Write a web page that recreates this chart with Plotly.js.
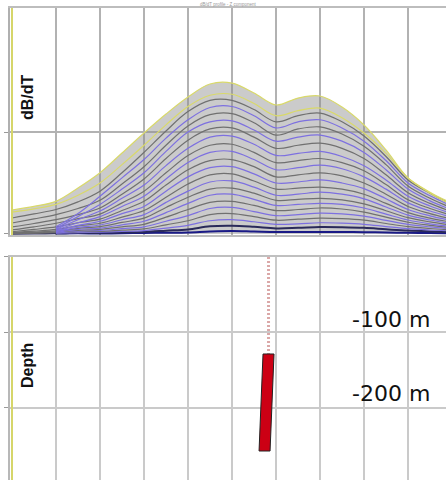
<!DOCTYPE html>
<html><head><meta charset="utf-8">
<script src="https://cdn.plot.ly/plotly-3.0.1.min.js"></script>
<style>html,body{margin:0;padding:0;background:#fff}#chart{width:446px;height:480px}</style>
</head><body><div id="chart"></div>
<script>
// Profile stations (m along line)
const stationX = [0,25,50,75,100,125,150,175,200,225,250,275,300,325,350,375,400,425,450,475,500];

// dB/dT decay channels (early -> late)
const ch01 = [.235,.27,.32,.45,.60,.794,.99,1.176,1.343,1.471,1.48,1.382,1.265,1.333,1.353,1.245,1.069,.824,.549,.402,.284];
const ch02 = [.215,.247,.29,.38,.50,.68,.87,1.07,1.25,1.36,1.37,1.28,1.16,1.21,1.235,1.14,.99,.79,.55,.41,.30];
const ch03 = [.157,.197,.24,.315,.42,.60,.80,1.01,1.20,1.31,1.31,1.22,1.10,1.16,1.185,1.10,.96,.76,.53,.40,.29];
const ch04 = [null,null,.07,.20,.37,.55,.73,.94,1.12,1.24,1.25,1.16,1.04,1.10,1.12,1.04,.91,.72,.50,.375,.275];
const ch05 = [.108,.148,.19,.25,.33,.49,.66,.87,1.06,1.17,1.18,1.09,.97,1.03,1.05,.98,.86,.68,.47,.35,.255];
const ch06 = [null,null,.055,.17,.29,.44,.60,.81,1.00,1.10,1.11,1.02,.91,.95,.97,.91,.80,.63,.44,.325,.237];
const ch07 = [.069,.103,.14,.19,.255,.39,.54,.74,.92,1.03,1.04,.95,.84,.87,.89,.84,.74,.58,.405,.30,.218];
const ch08 = [null,null,.045,.14,.225,.35,.48,.67,.84,.95,.96,.88,.77,.79,.81,.76,.67,.53,.37,.275,.20];
const ch09 = [.040,.070,.105,.15,.195,.305,.42,.60,.77,.87,.88,.80,.70,.72,.74,.70,.62,.485,.335,.25,.182];
const ch10 = [null,null,.036,.11,.17,.27,.37,.54,.70,.80,.81,.73,.63,.65,.675,.64,.56,.44,.305,.225,.164];
const ch11 = [.022,.045,.07,.11,.145,.23,.32,.48,.63,.72,.73,.66,.56,.58,.60,.57,.50,.39,.27,.20,.146];
const ch12 = [null,null,.028,.085,.125,.20,.27,.42,.56,.65,.66,.59,.50,.51,.53,.50,.445,.345,.24,.178,.13];
const ch13 = [.014,.028,.045,.08,.105,.165,.23,.36,.49,.58,.59,.52,.44,.45,.46,.44,.39,.30,.21,.156,.114];
const ch14 = [null,null,.022,.065,.088,.14,.19,.31,.42,.51,.52,.46,.38,.39,.41,.39,.345,.265,.185,.137,.10];
const ch15 = [.009,.018,.03,.055,.072,.113,.155,.26,.36,.44,.45,.40,.33,.34,.35,.335,.295,.228,.16,.118,.086];
const ch16 = [null,null,.016,.045,.058,.09,.125,.21,.30,.38,.39,.34,.28,.29,.30,.29,.255,.195,.137,.10,.074];
const ch17 = [.006,.011,.02,.036,.046,.07,.095,.165,.24,.31,.32,.28,.23,.24,.255,.245,.215,.165,.115,.085,.062];
const ch18 = [null,null,.011,.028,.035,.052,.07,.125,.18,.25,.26,.22,.18,.19,.205,.197,.175,.134,.094,.07,.051];
const ch19 = [.004,.007,.012,.022,.026,.038,.05,.09,.13,.19,.20,.17,.135,.145,.155,.15,.135,.103,.072,.054,.04];
const ch20 = [null,null,.007,.014,.018,.025,.033,.058,.085,.13,.14,.12,.095,.10,.11,.106,.095,.073,.052,.039,.029];
const ch21 = [.002,.004,.006,.011,.011,.015,.02,.032,.045,.075,.08,.07,.055,.06,.068,.066,.06,.046,.033,.025,.019];
const ch22 = [null,null,.004,.006,.005,.007,.01,.012,.015,.025,.03,.025,.02,.02,.02,.02,.018,.015,.011,.009,.007];

// Borehole: collar track and target section (x in m, depth in m)
const holeTrackX = [291.5, 291.5];
const holeTrackDepth = [0, -128.5];
const targetX = [291.5, 287.0];
const targetDepth = [-128.5, -257];
const targetWidth = 12.5;

// Depth labels
const depthLabels = ['-100 m', '-200 m'];
const depthLabelY = [-82.8, -181];

const channels = [ch01,ch02,ch03,ch04,ch05,ch06,ch07,ch08,ch09,ch10,ch11,ch12,ch13,ch14,ch15,ch16,ch17,ch18,ch19,ch20,ch21,ch22];

function chColor(i){
  if (i < 2) return '#d9d96a';
  const blue = (i % 2 === 1);
  if (i >= 20) return blue ? '#1a1a86' : '#2a2a5a';
  return blue ? '#7d70e0' : '#707070';
}

const traces = [];
// grey envelope fill
const env = stationX.map((_, k) => Math.max(ch01[k], ch02[k]));
traces.push({x: stationX, y: env, type:'scatter', mode:'lines', xaxis:'x', yaxis:'y',
  line:{width:0, shape:'spline', smoothing:1}, fill:'tozeroy', fillcolor:'rgba(140,140,140,0.45)', hoverinfo:'skip', showlegend:false});
for (let i = channels.length - 1; i >= 0; i--) {
  traces.push({x: stationX, y: channels[i], type:'scatter', mode:'lines', xaxis:'x', yaxis:'y',
    line:{color: chColor(i), width: (i >= 20 ? 2 : 1.2), shape:'spline', smoothing:1}, showlegend:false});
}
// borehole track
traces.push({x: holeTrackX, y: holeTrackDepth, type:'scatter', mode:'lines', xaxis:'x2', yaxis:'y2',
  line:{color:'#dba8a8', width:3, dash:'2px,2px'}, showlegend:false});
// target
const hw = targetWidth / 2;
traces.push({x:[targetX[0]-hw, targetX[0]+hw, targetX[1]+hw, targetX[1]-hw, targetX[0]-hw],
  y:[targetDepth[0], targetDepth[0], targetDepth[1], targetDepth[1], targetDepth[0]],
  type:'scatter', mode:'lines', fill:'toself', fillcolor:'#cc0014', xaxis:'x2', yaxis:'y2',
  line:{color:'#222', width:1}, showlegend:false});

const xr = [-2.27, 493.18];
const layout = {
  width:446, height:480,
  margin:{l:10, r:0, t:8, b:0},
  paper_bgcolor:'#fff', plot_bgcolor:'#fff',
  showlegend:false,
  xaxis:{domain:[0,1], range:xr, anchor:'y', tick0:0, dtick:50, showgrid:true, gridcolor:'#b2b2b2', gridwidth:2.5,
    zeroline:false, showticklabels:false, ticks:'', showline:true, mirror:true, linecolor:'#bdbdbd', linewidth:2},
  yaxis:{domain:[0.5191,1], range:[-0.0098, 2.216], tickvals:[0,1], showgrid:true, gridcolor:'#b2b2b2', gridwidth:2.5,
    zeroline:false, showticklabels:false, ticks:'outside', ticklen:4, tickcolor:'#999', showline:true, linecolor:'#b0b0b0', linewidth:2},
  xaxis2:{domain:[0,1], range:xr, anchor:'y2', tick0:0, dtick:50, showgrid:true, gridcolor:'#cacaca', gridwidth:2,
    zeroline:false, showticklabels:false, ticks:'', showline:true, mirror:true, linecolor:'#c0c0c0', linewidth:2},
  yaxis2:{domain:[0,0.4725], range:[-295.4, 0], tickvals:[0,-100,-200], showgrid:true, gridcolor:'#cacaca', gridwidth:2,
    zeroline:false, showticklabels:false, ticks:'outside', ticklen:4, tickcolor:'#999', showline:true, linecolor:'#b8b8b8', linewidth:2},
  shapes:[
    {type:'line', xref:'x', yref:'y domain', x0:0, x1:0, y0:0, y1:1, line:{color:'#d6d66a', width:2}, layer:'above'},
    {type:'line', xref:'x2', yref:'y2 domain', x0:0, x1:0, y0:0, y1:1, line:{color:'#d6d66a', width:2}, layer:'above'}
  ],
  annotations:[
    {xref:'paper', yref:'paper', x:0.0390, y:0.8114, xanchor:'center', yanchor:'middle', text:'<b>dB/dT</b>', textangle:-90, showarrow:false,
      font:{family:'Liberation Sans Narrow, Liberation Sans, Arial', size:16, color:'#111'}},
    {xref:'paper', yref:'paper', x:0.0390, y:0.2415, xanchor:'center', yanchor:'middle', text:'<b>Depth</b>', textangle:-90, showarrow:false,
      font:{family:'Liberation Sans Narrow, Liberation Sans, Arial', size:16, color:'#111'}},
    {xref:'paper', yref:'paper', x:0.5, y:1.0064, xanchor:'center', yanchor:'middle', text:'dB/dT profile - Z component', showarrow:false,
      font:{family:'Liberation Sans, Arial', size:4.5, color:'#999'}},
    {xref:'x2', yref:'y2', x:430.7, y:depthLabelY[0], xanchor:'center', yanchor:'middle', text:depthLabels[0], showarrow:false,
      font:{family:'DejaVu Sans', size:22, color:'#111'}},
    {xref:'x2', yref:'y2', x:430.7, y:depthLabelY[1], xanchor:'center', yanchor:'middle', text:depthLabels[1], showarrow:false,
      font:{family:'DejaVu Sans', size:22, color:'#111'}}
  ]
};
Plotly.newPlot('chart', traces, layout, {displayModeBar:false, staticPlot:true});
</script></body></html>
